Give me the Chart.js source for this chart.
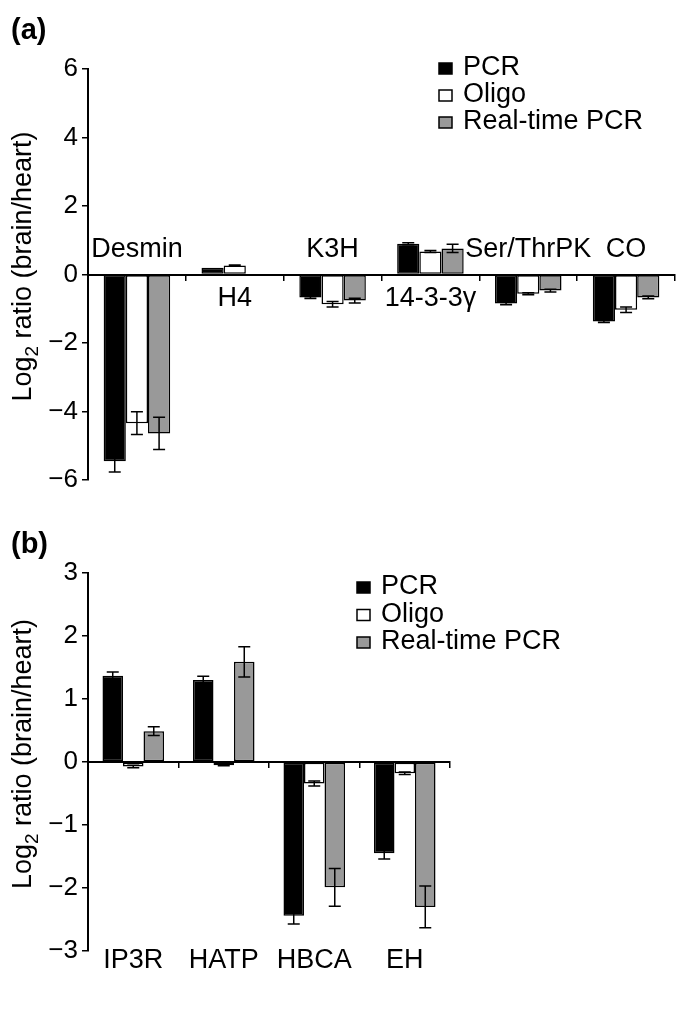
<!DOCTYPE html>
<html>
<head>
<meta charset="utf-8">
<script src="https://cdn.jsdelivr.net/npm/chart.js@4.4.0/dist/chart.umd.min.js"></script>
<style>
body { margin: 0; background: #fff; }
#wrap { position: relative; width: 685px; height: 1013px; }
canvas { position: absolute; left: 0; }
</style>
</head>
<body>
<div id="wrap">
    <canvas id="chartA" width="685" height="505" style="top:0px"></canvas>
    <canvas id="chartB" width="685" height="508" style="top:505px"></canvas>
</div>
<script>
// panel (a)
const catsA = ['Desmin', 'H4', 'K3H', '14-3-3\u03b3', 'Ser/ThrPK', 'CO'];
const pcrA = [-5.45, 0.2, -0.67, 0.9, -0.85, -1.37];
const oligoA = [-4.34, 0.26, -0.87, 0.67, -0.56, -1.03];
const rtA = [-4.64, null, -0.76, 0.76, -0.47, -0.67];
const pcrErrA = [0.32, 0, 0.03, 0.03, 0.03, 0.03];
const oligoErrA = [0.33, 0.02, 0.08, 0.03, 0.03, 0.08];
const rtErrA = [0.47, 0, 0.07, 0.12, 0.04, 0.04];
const labelSideA = ['up', 'down', 'up', 'down', 'up', 'up'];

// panel (b)
const catsB = ['IP3R', 'HATP', 'HBCA', 'EH'];
const pcrB = [1.37, 1.30, -2.44, -1.45];
const oligoB = [-0.07, -0.05, -0.34, -0.18];
const rtB = [0.49, 1.59, -1.99, -2.30];
const pcrErrB = [0.06, 0.06, 0.13, 0.09];
const oligoErrB = [0.02, 0.01, 0.04, 0.02];
const rtErrB = [0.07, 0.24, 0.30, 0.33];

const seriesNames = ['PCR', 'Oligo', 'Real-time PCR'];
const seriesColors = ['#000000', '#ffffff', '#999999'];

const FONT = '"Liberation Sans", Arial, sans-serif';
Chart.defaults.font.family = FONT;
Chart.defaults.color = '#000';

// error bars drawn on top of the bars
const errorBars = {
    id: 'errorBars',
    afterDatasetsDraw(chart) {
        const ctx = chart.ctx;
        const y = chart.scales.y;
        ctx.save();
        ctx.strokeStyle = '#000';
        ctx.lineWidth = 1.5;
        chart.data.datasets.forEach((ds, i) => {
            const meta = chart.getDatasetMeta(i);
            meta.data.forEach((bar, j) => {
                const v = ds.data[j];
                const e = ds.errors[j];
                if (v == null || !e) return;
                const top = y.getPixelForValue(v + e);
                const bot = y.getPixelForValue(v - e);
                ctx.beginPath();
                ctx.moveTo(bar.x, top); ctx.lineTo(bar.x, bot);
                ctx.moveTo(bar.x - 6, top); ctx.lineTo(bar.x + 6, top);
                ctx.moveTo(bar.x - 6, bot); ctx.lineTo(bar.x + 6, bot);
                ctx.stroke();
            });
        });
        ctx.restore();
    }
};

// panel letter, rotated y title, legend and category names
const decor = {
    id: 'decor',
    afterDraw(chart, args, o) {
        const ctx = chart.ctx;
        const area = chart.chartArea;
        const xs = chart.scales.x;
        const ys = chart.scales.y;
        ctx.save();
        ctx.fillStyle = '#000';

        // (a) / (b)
        ctx.font = 'bold 29px ' + FONT;
        ctx.textAlign = 'left';
        ctx.textBaseline = 'middle';
        ctx.fillText(o.panel, 11, o.panelY);

        // y title with subscript
        ctx.save();
        const cy = (area.top + area.bottom) / 2 - 8;
        ctx.translate(31, cy);
        ctx.rotate(-Math.PI / 2);
        ctx.textBaseline = 'alphabetic';
        ctx.font = '27px ' + FONT;
        const w1 = ctx.measureText('Log').width;
        const w3 = ctx.measureText(' ratio (brain/heart)').width;
        ctx.font = '19px ' + FONT;
        const w2 = ctx.measureText('2').width;
        let x0 = -(w1 + w2 + w3) / 2;
        ctx.font = '27px ' + FONT;
        ctx.fillText('Log', x0, 0);
        ctx.font = '19px ' + FONT;
        ctx.fillText('2', x0 + w1, 7);
        ctx.font = '27px ' + FONT;
        ctx.fillText(' ratio (brain/heart)', x0 + w1 + w2, 0);
        ctx.restore();

        // legend
        ctx.font = '27px ' + FONT;
        ctx.textBaseline = 'middle';
        ctx.lineWidth = 1.5;
        ctx.strokeStyle = '#000';
        chart.data.datasets.forEach((ds, i) => {
            const ry = o.legendY + i * o.legendGap;
            ctx.fillStyle = ds.backgroundColor;
            ctx.fillRect(o.legendX, ry - 5, 13, 11);
            ctx.strokeRect(o.legendX, ry - 5, 13, 11);
            ctx.fillStyle = '#000';
            ctx.fillText(ds.label, o.legendX + 24, ry);
        });

        // category names
        ctx.font = '27px ' + FONT;
        ctx.textAlign = 'center';
        ctx.textBaseline = 'alphabetic';
        const zero = ys.getPixelForValue(0);
        chart.data.labels.forEach((lab, i) => {
            const x = xs.getPixelForValue(i);
            let y;
            if (o.sides) {
                y = o.sides[i] === 'up' ? zero - 18 : zero + 31;
            } else {
                y = area.bottom + 17;
            }
            ctx.fillText(lab, x, y);
        });
        ctx.restore();
    }
};

function makeDatasets(pcr, oligo, rt, ePcr, eOligo, eRt) {
    const vals = [pcr, oligo, rt];
    const errs = [ePcr, eOligo, eRt];
    return vals.map((v, i) => ({
        label: seriesNames[i],
        data: v,
        errors: errs[i],
        backgroundColor: seriesColors[i],
        borderColor: '#000',
        borderWidth: 1.5,
        borderSkipped: false,
        categoryPercentage: 0.68,
        barPercentage: 1.0
    }));
}

function axes(min, max, step) {
    return {
        x: {
            type: 'category',
            position: { y: 0 },
            ticks: { display: false },
            grid: { drawOnChartArea: false, drawTicks: true, tickLength: 5, color: '#000', lineWidth: 1.5, offset: true },
            border: { display: true, color: '#000', width: 2 }
        },
        y: {
            min: min,
            max: max,
            ticks: {
                stepSize: step,
                font: { size: 26 },
                color: '#000',
                padding: 4,
                callback: v => v < 0 ? '\u2212' + (-v) : String(v)
            },
            grid: { drawOnChartArea: false, drawTicks: true, tickLength: 6, color: '#000', lineWidth: 1.5 },
            border: { display: true, color: '#000', width: 2 },
            afterFit: s => { s.width = 88; }
        }
    };
}

new Chart(document.getElementById('chartA'), {
    type: 'bar',
    data: {
        labels: catsA,
        datasets: makeDatasets(pcrA, oligoA, rtA, pcrErrA, oligoErrA, rtErrA)
    },
    options: {
        responsive: false,
        animation: false,
        devicePixelRatio: 1,
        layout: { padding: { top: 69, right: 10, bottom: 25, left: 0 } },
        scales: axes(-6, 6, 2),
        plugins: {
            legend: { display: false },
            tooltip: { enabled: false },
            decor: { panel: '(a)', panelY: 31, legendX: 439, legendY: 68, legendGap: 27, sides: labelSideA }
        }
    },
    plugins: [errorBars, decor]
});

new Chart(document.getElementById('chartB'), {
    type: 'bar',
    data: {
        labels: catsB,
        datasets: makeDatasets(pcrB, oligoB, rtB, pcrErrB, oligoErrB, rtErrB)
    },
    options: {
        responsive: false,
        animation: false,
        devicePixelRatio: 1,
        layout: { padding: { top: 68, right: 235, bottom: 62, left: 0 } },
        scales: axes(-3, 3, 1),
        plugins: {
            legend: { display: false },
            tooltip: { enabled: false },
            decor: { panel: '(b)', panelY: 40, legendX: 357, legendY: 82, legendGap: 27.5, sides: null }
        }
    },
    plugins: [errorBars, decor]
});
</script>
</body>
</html>
